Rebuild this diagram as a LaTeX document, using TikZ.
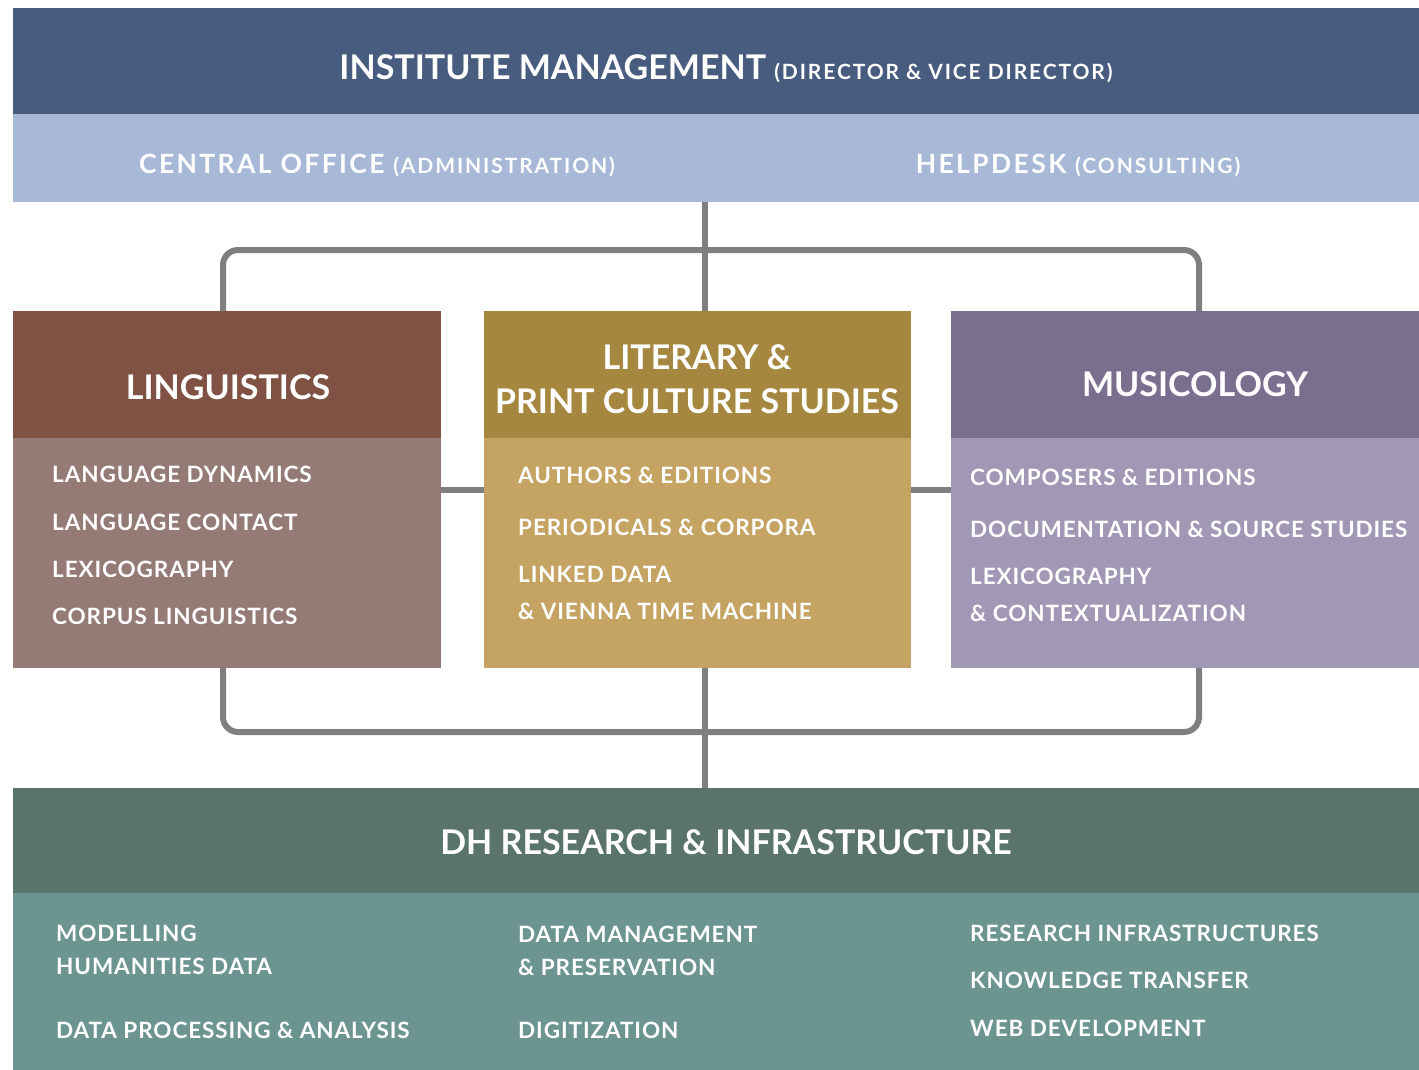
\documentclass[tikz,border=0pt]{standalone}
\usepackage{fontspec}
\setmainfont{Lato}
\newfontfamily\wideface{Lato}[LetterSpace=9]
\newfontfamily\itemface{Lato}[LetterSpace=4]
\usetikzlibrary{positioning}

\definecolor{mgmtblue}{HTML}{475C7E}
\definecolor{officeblue}{HTML}{A7B9D7}
\definecolor{linghead}{HTML}{7F5244}
\definecolor{lingbody}{HTML}{957B76}
\definecolor{lithead}{HTML}{A5873F}
\definecolor{litbody}{HTML}{C5A463}
\definecolor{mushead}{HTML}{7A6F8F}
\definecolor{musbody}{HTML}{A098B5}
\definecolor{dhhead}{HTML}{5A746D}
\definecolor{dhbody}{HTML}{6C9592}
\definecolor{linkgray}{HTML}{7F7F7F}

\newcommand{\ttlfont}{\fontsize{34}{44}\selectfont\bfseries}
\newcommand{\midfont}{\wideface\fontsize{26.5}{30}\selectfont\bfseries}
\newcommand{\parfont}{\wideface\fontsize{21}{24}\selectfont\bfseries}
\newcommand{\itmfont}{\itemface\fontsize{22.5}{37}\selectfont\bfseries}

\begin{document}
\begin{tikzpicture}[x=1pt, y=-1pt,
    panel/.style={inner sep=0pt, outer sep=0pt, anchor=north west},
    title/.style={inner sep=0pt, text=white, font=\ttlfont, align=center},
    item/.style={inner sep=0pt, text=white, font=\itmfont, align=left, anchor=west},
    link/.style={draw=linkgray, line width=6pt}]

    \useasboundingbox (0,0) rectangle (1419,1070);

    % management and office bars
    \node[panel, fill=mgmtblue, minimum width=1406pt, minimum height=106pt] (mgmt) at (13,8) {};
    \node[panel, fill=officeblue, minimum width=1406pt, minimum height=88pt] (office) at (13,114) {};
    \node[title, anchor=base] (mgmt-label) at (726,80) {INSTITUTE MANAGEMENT {\parfont (DIRECTOR \& VICE DIRECTOR)}};
    \node[title, anchor=base, font=\midfont] (office-label) at (377,173) {CENTRAL OFFICE {\parfont (ADMINISTRATION)}};
    \node[title, anchor=base, font=\midfont] (help-label) at (1078,173) {HELPDESK {\parfont (CONSULTING)}};

    % three departments
    \node[panel, fill=linghead, minimum width=428pt, minimum height=127pt] (ling-head) at (13,311) {};
    \node[panel, fill=lingbody, minimum width=428pt, minimum height=230pt] (ling-body) at (13,438) {};
    \node[panel, fill=lithead, minimum width=427pt, minimum height=127pt] (lit-head) at (484,311) {};
    \node[panel, fill=litbody, minimum width=427pt, minimum height=230pt] (lit-body) at (484,438) {};
    \node[panel, fill=mushead, minimum width=468pt, minimum height=127pt] (mus-head) at (951,311) {};
    \node[panel, fill=musbody, minimum width=468pt, minimum height=230pt] (mus-body) at (951,438) {};

    \node[title, anchor=base] (ling-label) at (228,399) {LINGUISTICS};
    \node[title] (lit-label) at (697,379) {LITERARY \&\\PRINT CULTURE STUDIES};
    \node[title, anchor=base] (mus-label) at (1195,396) {MUSICOLOGY};

    \foreach \y/\t [count=\i] in {474/LANGUAGE DYNAMICS, 522/LANGUAGE CONTACT,
        569/LEXICOGRAPHY, 616/CORPUS LINGUISTICS}
        \node[item] (ling-\i) at (52,\y) {\t};
    \foreach \y/\t [count=\i] in {475/AUTHORS \& EDITIONS, 527/PERIODICALS \& CORPORA,
        592.5/{LINKED DATA\\\& VIENNA TIME MACHINE}}
        \node[item] (lit-\i) at (518,\y) {\t};
    \foreach \y/\t [count=\i] in {477/COMPOSERS \& EDITIONS, 529/DOCUMENTATION \& SOURCE STUDIES,
        594.5/{LEXICOGRAPHY\\\& CONTEXTUALIZATION}}
        \node[item] (mus-\i) at (970,\y) {\t};

    % digital humanities
    \node[panel, fill=dhhead, minimum width=1406pt, minimum height=105pt] (dh-head) at (13,788) {};
    \node[panel, fill=dhbody, minimum width=1406pt, minimum height=177pt] (dh-body) at (13,893) {};
    \node[title, anchor=base] (dh-label) at (726,854) {DH RESEARCH \& INFRASTRUCTURE};

    \foreach \x/\y/\t [count=\i] in {56/949.5/{MODELLING\\HUMANITIES DATA}, 56/1030/DATA PROCESSING \& ANALYSIS,
        518/951/{DATA MANAGEMENT\\\& PRESERVATION}, 518/1030/DIGITIZATION,
        970/933/RESEARCH INFRASTRUCTURES, 970/980/KNOWLEDGE TRANSFER, 970/1028/WEB DEVELOPMENT}
        \node[item, font=\itemface\fontsize{22.5}{33}\selectfont\bfseries] (dh-\i) at (\x,\y) {\t};

    % connectors
    \coordinate (spine) at (705,250);
    \coordinate (loop-tl) at (223,250);
    \coordinate (loop-tr) at (1199,250);
    \coordinate (loop-bl) at (223,732);
    \coordinate (loop-br) at (1199,732);
    \coordinate (mid-row) at (0,490);

    \draw[link] (office.south -| spine) -- (lit-head.north -| spine);
    \draw[link, rounded corners=15pt] (ling-head.north -| loop-tl) -- (loop-tl) -- (loop-tr) -- (mus-head.north -| loop-tr);
    \draw[link, rounded corners=15pt] (ling-body.south -| loop-bl) -- (loop-bl) -- (loop-br) -- (mus-body.south -| loop-br);
    \draw[link] (lit-body.south -| spine) -- (dh-head.north -| spine);
    \draw[link] (ling-body.east |- mid-row) -- (lit-body.west |- mid-row);
    \draw[link] (lit-body.east |- mid-row) -- (mus-body.west |- mid-row);
\end{tikzpicture}
\end{document}
